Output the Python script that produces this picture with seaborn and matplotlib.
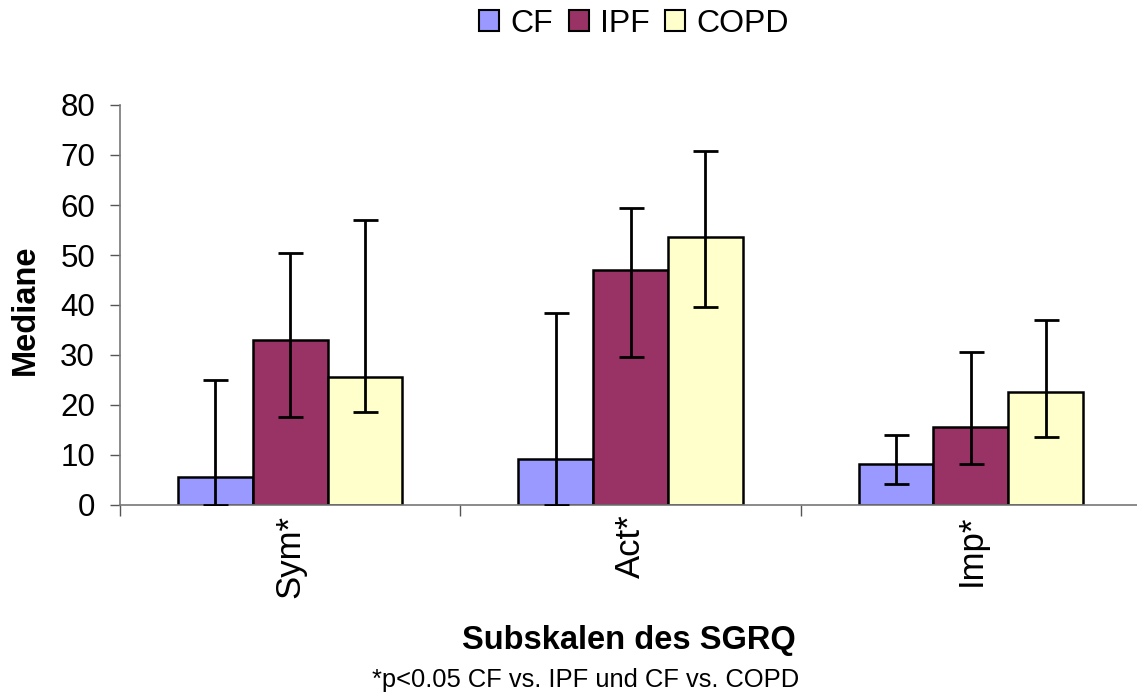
import matplotlib
matplotlib.use("Agg")
import matplotlib.pyplot as plt
import seaborn as sns
import pandas as pd
import numpy as np
from matplotlib.patches import Patch

categories = ["Sym*", "Act*", "Imp*"]
groups = ["CF", "IPF", "COPD"]
cf_median = [5.6, 9.2, 8.2]
ipf_median = [33.0, 47.0, 15.6]
copd_median = [25.6, 53.6, 22.6]
cf_low = [0.0, 0.0, 4.2]
cf_high = [25.0, 38.4, 14.0]
ipf_low = [17.6, 29.6, 8.2]
ipf_high = [50.4, 59.4, 30.6]
copd_low = [18.6, 39.6, 13.6]
copd_high = [57.0, 70.8, 37.0]
colors = ["#9999FF", "#993366", "#FFFFCC"]

sns.set_style("white")
plt.rcParams['font.family'] = ['Liberation Sans', 'DejaVu Sans']
plt.rcParams['text.color'] = 'black'
plt.rcParams['axes.labelcolor'] = 'black'
plt.rcParams['xtick.color'] = 'black'
plt.rcParams['ytick.color'] = 'black'

rows = []
for g, med, lo, hi in zip(groups, [cf_median, ipf_median, copd_median],
                          [cf_low, ipf_low, copd_low], [cf_high, ipf_high, copd_high]):
    for c, m, l, h in zip(categories, med, lo, hi):
        rows.append(dict(cat=c, group=g, median=m, low=l, high=h))
df = pd.DataFrame(rows)

fig = plt.figure(figsize=(11.37, 6.93), dpi=100)
ax = fig.add_axes([120/1137, (693-505)/693, (1137-120)/1137, 400/693])

sns.barplot(data=df, x="cat", y="median", hue="group", order=categories, hue_order=groups,
            palette=colors, width=0.66, edgecolor="black", linewidth=1.8,
            errorbar=None, ax=ax, legend=False, saturation=1)

for gi, g in enumerate(groups):
    sub = df[df.group == g].set_index("cat").loc[categories]
    cont = ax.containers[gi]
    xs = [p.get_x() + p.get_width() / 2 for p in cont.patches]
    med = sub["median"].values
    yerr = np.vstack([med - sub["low"].values, sub["high"].values - med])
    ax.errorbar(xs, med, yerr=yerr, fmt="none", ecolor="black", elinewidth=2,
                capsize=9, capthick=2, zorder=5)

ax.set_ylim(0, 80)
ax.set_yticks(range(0, 81, 10))
ax.set_xlim(-0.5, 2.5 - 4/340)
ax.set_xticks([0, 1, 2])
ax.set_xticklabels(categories, rotation=90, fontsize=25)
ax.set_xticks([-0.5, 0.5, 1.5], minor=True)
ax.tick_params(axis="x", which="major", length=0, pad=7)
ax.tick_params(axis="x", which="minor", length=8, color="#555555", width=1, direction="out", bottom=True)
ax.tick_params(axis="y", labelsize=22.5, length=7, color="#555555", width=1, direction="out", left=True, pad=11)

for s in ["top", "right"]:
    ax.spines[s].set_visible(False)
for s in ["left", "bottom"]:
    ax.spines[s].set_color("#777777")
    ax.spines[s].set_linewidth(1.2)

ax.set_ylabel("")
ax.set_xlabel("")
fig.text(25/1137, 1 - 310/693, "Mediane", rotation=90, ha="center", va="center", fontsize=23.5, fontweight="bold")
fig.text(629/1137, 1 - 640/693, "Subskalen des SGRQ", ha="center", va="center", fontsize=23.5, fontweight="bold")
fig.text(586/1137, 1 - 680/693, "*p<0.05 CF vs. IPF und CF vs. COPD", ha="center", va="center", fontsize=18.4)

handles = [Patch(facecolor=c, edgecolor="black", linewidth=1.5, label=g) for c, g in zip(colors, groups)]
fig.legend(handles=handles, loc="center", bbox_to_anchor=(634/1137, 1 - 24/693), ncol=3,
           frameon=False, fontsize=23, handlelength=0.62, handleheight=0.62, handletextpad=0.35,
           columnspacing=0.5, borderpad=0)

fig.savefig("out.png", dpi=100)
